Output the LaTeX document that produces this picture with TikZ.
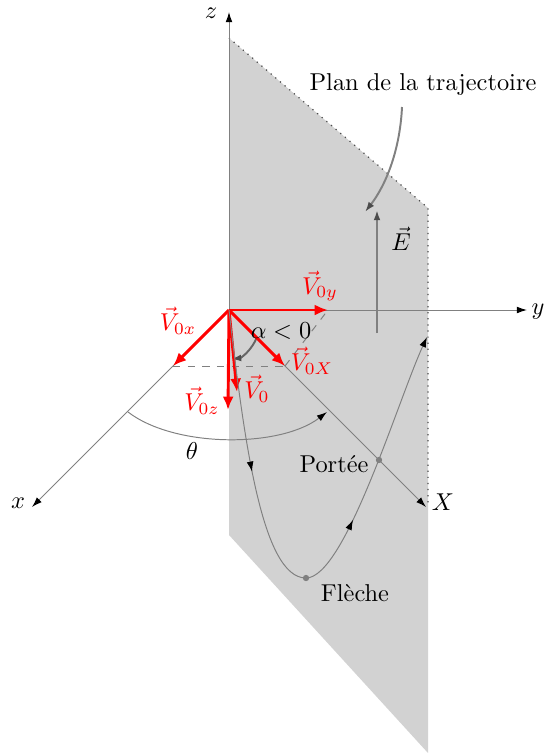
\documentclass[tikz,border=0pt]{standalone}
\usepackage{fontspec}
\usepackage{tikz}
\usetikzlibrary{arrows.meta, decorations.markings, calc}

\begin{document}
\begin{tikzpicture}[
  x=0.41pt, y=-0.41pt,
  axis/.style={draw=gray, line width=0.4pt,
               -{Latex[length=4.2pt, width=2.8pt, black]}},
  vec/.style={draw=red, line width=1.2pt, -{Latex[length=5.5pt, width=4.5pt]}},
  vlab/.style={text=red, inner sep=1pt},
  proj/.style={draw=gray, dashed, line width=0.4pt},
  gvec/.style={draw=gray, line width=0.8pt,
               -{Latex[length=4.2pt, width=2.8pt, black!70]}},
  traj/.style={draw=gray, line width=0.4pt,
               -{Latex[length=4.2pt, width=2.8pt, black]},
               postaction={decorate},
               decoration={markings,
                 mark=at position 0.29 with {\arrow{Latex[length=4.2pt, width=2.8pt, black]}},
                 mark=at position 0.65 with {\arrow{Latex[length=4.2pt, width=2.8pt, black]}}}},
  pt/.style={circle, fill=gray, inner sep=0pt, minimum size=2.6pt},
]
\useasboundingbox (0,0) rectangle (546,753);

%% ---- Plane of the trajectory ----

\coordinate (O) at (229,310);
\coordinate (pA) at (229,38);
\coordinate (pB) at (428,208);
\coordinate (pC) at (428,753);
\coordinate (pD) at (229,535);
\coordinate (pE) at (428,507);

\fill[gray!35] (pA) -- (pB) -- (pC) -- (pD) -- cycle;
\draw[dotted, gray!60!black, line width=0.5pt] (pA) -- (pB) -- (pE);

%% ---- Axes ----

\coordinate (ztip) at (229,12);
\coordinate (ytip) at (527,310);
\coordinate (xtip) at (32,507);
\coordinate (Xtip) at (426,507);

\draw[axis] (O) -- (ztip);
\draw[axis] (O) -- (ytip);
\draw[axis] (O) -- (xtip);
\draw[axis] (O) -- (Xtip);

\node (zlab) at (211,13) {$z$};
\node (ylab) at (538,312) {$y$};
\node (xlab) at (18,503) {$x$};
\node (Xlab) at (443,502) {$X$};

%% ---- Angle theta ----

\coordinate (thA) at (128,412);
\coordinate (thB) at (327,412);
\draw[draw=gray, line width=0.4pt, -{Latex[length=4.2pt, width=2.8pt, black]}]
    (thA) .. controls (175,448) and (280,448) .. (thB);
\node (theta) at (192,451) {$\theta$};

%% ---- Velocity components ----

\coordinate (v0y) at (328,310);
\coordinate (v0x) at (173,366);
\coordinate (v0X) at (285,366);
\coordinate (v0z) at (228,410);
\coordinate (v0)  at (237,392);

\draw[proj] (v0x) -- (v0X);
\draw[proj] (v0X) -- (v0y);

\draw[gvec, draw=gray!80!black] (257,337) .. controls (252,350) and (241,358) .. (231,359);

\draw[vec] (O) -- (v0y);
\draw[vec] (O) -- (v0x);
\draw[vec] (O) -- (v0X);
\draw[vec] (O) -- (v0z);
\draw[vec] (O) -- (v0);

\node[vlab] (lv0y) at (320,286) {$\vec{V}_{0y}$};
\node[vlab] (lv0x) at (178,321) {$\vec{V}_{0x}$};
\node[vlab] (lv0X) at (312,361) {$\vec{V}_{0X}$};
\node[vlab] (lv0)  at (257,389) {$\vec{V}_{0}$};
\node[vlab] (lv0z) at (202,401) {$\vec{V}_{0z}$};
\node (alpha) at (281,331) {$\alpha<0$};

%% ---- Field ----

\coordinate (Ea) at (377,333);
\coordinate (Eb) at (377,210);
\draw[gvec] (Ea) -- (Eb);
\node (Elab) at (401,239) {$\vec{E}$};

%% ---- Trajectory ----

\coordinate (top) at (306,578);
\coordinate (tend) at (427,337);
\draw[traj] (O) .. controls (244,440) and (262,578) .. (top)
                .. controls (345,578) and (398,400) .. (tend);

\node[pt] (topdot) at (top) {};
\node[pt] (range) at (379,460) {};
\node (fleche) at (355,593) {Flèche};
\node (portee) at (334,464) {Portée};

%% ---- Plane label ----

\node (plan) at (423,85) {Plan de la trajectoire};
\draw[gvec] (402,107) .. controls (400,150) and (386,185) .. (365,212);

\end{tikzpicture}
\end{document}
